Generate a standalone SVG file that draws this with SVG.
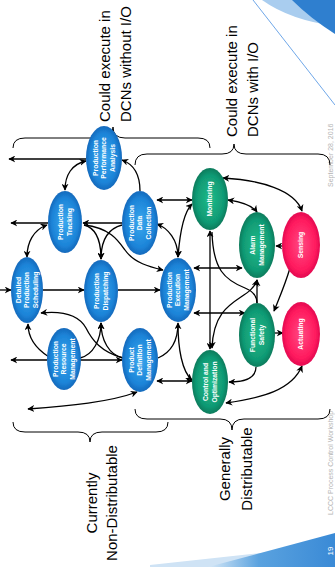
<svg xmlns="http://www.w3.org/2000/svg" width="335" height="567" viewBox="0 0 335 567">
<defs>
<style>
.c{fill:none;stroke:#000;stroke-width:1.3}
.e{marker-end:url(#ah)}
.b{marker-end:url(#ah);marker-start:url(#ah)}
.nt{font-family:"Liberation Sans",Arial,sans-serif;font-weight:bold;font-size:6.8px;fill:#fff;text-anchor:middle}
.big{font-family:"Liberation Sans",Arial,sans-serif;font-size:15px;fill:#000}
.ft{font-family:"Liberation Sans",Arial,sans-serif;font-size:7px;fill:#b4b4b4}
.br{fill:none;stroke:#000;stroke-width:1}
.blue{fill:url(#gb)}
.green{fill:url(#gg)}
.pink{fill:url(#gp)}
</style>
<radialGradient id="gb" cx="50%" cy="50%" r="55%">
<stop offset="0" stop-color="#3aa8ee"/><stop offset="0.7" stop-color="#1c84d8"/><stop offset="1" stop-color="#125eb0"/>
</radialGradient>
<radialGradient id="gg" cx="50%" cy="50%" r="55%">
<stop offset="0" stop-color="#1fbb8a"/><stop offset="0.7" stop-color="#109a74"/><stop offset="1" stop-color="#086e52"/>
</radialGradient>
<radialGradient id="gp" cx="50%" cy="50%" r="55%">
<stop offset="0" stop-color="#ff4a82"/><stop offset="0.7" stop-color="#ff1a5e"/><stop offset="1" stop-color="#d8004a"/>
</radialGradient>
<linearGradient id="bar" x1="0" y1="0" x2="1" y2="0">
<stop offset="0" stop-color="#d6e8f7"/><stop offset="0.4" stop-color="#5aa2df"/><stop offset="1" stop-color="#3a8ad6"/>
</linearGradient>
<filter id="soft" x="-20%" y="-20%" width="140%" height="140%"><feGaussianBlur stdDeviation="0.7"/></filter>
<marker id="ah" viewBox="0 0 10 10" refX="9" refY="5" markerWidth="7" markerHeight="7" markerUnits="userSpaceOnUse" orient="auto-start-reverse">
<path d="M0,0 L10,5 L0,10 L3,5 z" fill="#000"/>
</marker>
</defs>

<g id="decor">
<path d="M262,0 Q290,20 335,26 L335,0 Z" fill="#a9cdef"/>
<path d="M292,0 Q310,18 335,34 L335,0 Z" fill="#2f7fcf"/>
<line x1="253" y1="0" x2="335" y2="105" stroke="#4a90e2" stroke-width="0.8"/>
<path d="M150,567 L150,565 L335,545 L335,567 Z" fill="#cfe3f5"/>
<path d="M208,567 L335,533 L335,567 Z" fill="url(#bar)"/>
<text class="ft" style="fill:#fff;font-size:8px" transform="translate(333,551) rotate(-90)" text-anchor="middle">19</text>
<text class="ft" transform="translate(333,515) rotate(-90)">LCCC Process Control Workshop</text>
<text class="ft" transform="translate(333,187) rotate(-90)">September 28, 2016</text>
</g>

<g id="connectors">
<path class="c e" d="M86,159 L9,159"/>
<path class="c b" d="M86,161 C72,164 65,175 65,190"/>
<path class="c e" d="M140,191 C140,173 133,164 122,160"/>
<path class="c e" d="M48,223 L11,223"/>
<path class="c b" d="M47,225 C33,230 27,243 27,257"/>
<path class="c e" d="M122,223 L83,223"/>
<path class="c e" d="M84,225 C96,228 101,240 101,259"/>
<path class="c e" d="M122,225 C107,229 101,241 101,259"/>
<path class="c e" d="M84,225 C110,228 118,240 125,250 C134,263 150,267 163,270"/>
<path class="c e" d="M0,290 L11,290"/>
<path class="c e" d="M43,290 L84,290"/>
<path class="c e" d="M118,290 L160,290"/>
<path class="c e" d="M47,360 L11,360"/>
<path class="c e" d="M49,357 C38,350 28,340 28,324"/>
<path class="c e" d="M80,358 C93,355 101,340 101,323"/>
<path class="c e" d="M123,358 C109,355 101,340 101,323"/>
<path class="c e" d="M80,360 L122,360"/>
<path class="c e" d="M123,358 C101,352 92,340 86,328 C78,314 60,311 41,313"/>
<path class="c e" d="M158,358 C172,352 178,340 178,323"/>
<path class="c e" d="M178,324 C178,348 182,372 192,380"/>
<path class="c b" d="M157,381 L192,381"/>
<path class="c b" d="M28,409 C70,406 110,402 137,392"/>
<path class="c b" d="M226,403 C262,398 292,390 302,366"/>
<path class="c e" d="M256,367 C256,378 245,382 229,382"/>
<path class="c e" d="M274,333 L283,333"/>
<path class="c b" d="M194,313 L245,313"/>
<path class="c b" d="M194,268 L242,268"/>
<path class="c b" d="M210,231 L210,349"/>
<path class="c b" d="M257,280 C250,302 214,296 212,348"/>
<path class="c" d="M212,232 C213,270 225,280 245,288 C255,292 257,298 257,303"/>
<path class="c e" d="M257,303 L257,280"/>
<path class="c e" d="M283,246 L276,246"/>
<path class="c e" d="M290,268 C285,285 280,296 274,311"/>
<path class="c b" d="M228,200 C242,202 252,205 257,212"/>
<path class="c b" d="M223,178 C260,180 295,190 302,211"/>
<path class="c b" d="M157,200 L192,200"/>
<path class="c b" d="M157,224 C168,228 178,240 178,257"/>
<path class="c b" d="M178,257 C180,230 184,212 192,204"/>
</g>

<g id="braces">
<path class="br" d="M13,148 Q13,138 25,138 L101,138 Q113,138 113,127 Q113,138 125,138 L198,138 Q210,138 210,148"/>
<path class="br" d="M135,165 Q135,154 147,154 L222,154 Q234,154 234,144 Q234,154 246,154 L318,154 Q330,154 330,165"/>
<path class="br" d="M13,422 Q13,432 25,432 L78,432 Q90,432 90,442 Q90,432 102,432 L156,432 Q168,432 168,422"/>
<path class="br" d="M135,409 Q135,419 147,419 L220,419 Q232,419 232,430 Q232,419 244,419 L318,419 Q330,419 330,409"/>
</g>

<g id="labels">
<text class="big" transform="translate(110,122) rotate(-90)"><tspan x="0" y="0">Could execute in</tspan><tspan x="0" y="21">DCNs without I/O</tspan></text>
<text class="big" transform="translate(237,137) rotate(-90)"><tspan x="0" y="0">Could execute in</tspan><tspan x="0" y="21">DCNs with I/O</tspan></text>
<text class="big" text-anchor="middle" transform="translate(97,503) rotate(-90)"><tspan x="0" y="0">Currently</tspan><tspan x="0" y="20">Non-Distributable</tspan></text>
<text class="big" text-anchor="middle" transform="translate(230,469) rotate(-90)"><tspan x="0" y="0">Generally</tspan><tspan x="0" y="22">Distributable</tspan></text>
</g>

<g id="n-ppa"><ellipse class="blue" filter="url(#soft)" cx="104" cy="158" rx="18" ry="32"/>
<text class="nt" transform="translate(104,158) rotate(-90)"><tspan x="0" y="-6.3">Production</tspan><tspan x="0" y="2.4">Performance</tspan><tspan x="0" y="11.1">Analysis</tspan></text></g>
<g id="n-pt"><ellipse class="blue" filter="url(#soft)" cx="65" cy="222" rx="17" ry="31"/>
<text class="nt" transform="translate(65,222) rotate(-90)"><tspan x="0" y="-2">Production</tspan><tspan x="0" y="6.7">Tracking</tspan></text></g>
<g id="n-pdc"><ellipse class="blue" filter="url(#soft)" cx="140" cy="223" rx="18" ry="32"/>
<text class="nt" transform="translate(140,223) rotate(-90)"><tspan x="0" y="-6.3">Production</tspan><tspan x="0" y="2.4">Data</tspan><tspan x="0" y="11.1">Collection</tspan></text></g>
<g id="n-dps"><ellipse class="blue" filter="url(#soft)" cx="27" cy="290" rx="16" ry="33"/>
<text class="nt" transform="translate(27,290) rotate(-90)"><tspan x="0" y="-6.3">Detailed</tspan><tspan x="0" y="2.4">Production</tspan><tspan x="0" y="11.1">Scheduling</tspan></text></g>
<g id="n-pd"><ellipse class="blue" filter="url(#soft)" cx="101" cy="291" rx="17" ry="31"/>
<text class="nt" transform="translate(101,291) rotate(-90)"><tspan x="0" y="-2">Production</tspan><tspan x="0" y="6.7">Dispatching</tspan></text></g>
<g id="n-pem"><ellipse class="blue" filter="url(#soft)" cx="178" cy="290" rx="18" ry="32"/>
<text class="nt" transform="translate(178,290) rotate(-90)"><tspan x="0" y="-6.3">Production</tspan><tspan x="0" y="2.4">Execution</tspan><tspan x="0" y="11.1">Management</tspan></text></g>
<g id="n-prm"><ellipse class="blue" filter="url(#soft)" cx="64" cy="359" rx="17" ry="31"/>
<text class="nt" transform="translate(64,359) rotate(-90)"><tspan x="0" y="-6.3">Production</tspan><tspan x="0" y="2.4">Resource</tspan><tspan x="0" y="11.1">Management</tspan></text></g>
<g id="n-pdm"><ellipse class="blue" filter="url(#soft)" cx="140" cy="360" rx="18" ry="32"/>
<text class="nt" transform="translate(140,360) rotate(-90)"><tspan x="0" y="-6.3">Product</tspan><tspan x="0" y="2.4">Definition</tspan><tspan x="0" y="11.1">Management</tspan></text></g>
<g id="n-mon"><ellipse class="green" filter="url(#soft)" cx="210" cy="199" rx="18" ry="31"/>
<text class="nt" transform="translate(210,199) rotate(-90)"><tspan x="0" y="2.4">Monitoring</tspan></text></g>
<g id="n-am"><ellipse class="green" filter="url(#soft)" cx="257" cy="245" rx="18" ry="33"/>
<text class="nt" transform="translate(257,245) rotate(-90)"><tspan x="0" y="-2">Alarm</tspan><tspan x="0" y="6.7">Management</tspan></text></g>
<g id="n-sen"><ellipse class="pink" filter="url(#soft)" cx="301" cy="245" rx="19" ry="33"/>
<text class="nt" transform="translate(301,245) rotate(-90)"><tspan x="0" y="2.4">Sensing</tspan></text></g>
<g id="n-fs"><ellipse class="green" filter="url(#soft)" cx="257" cy="335" rx="18" ry="32"/>
<text class="nt" transform="translate(257,335) rotate(-90)"><tspan x="0" y="-2">Functional</tspan><tspan x="0" y="6.7">Safety</tspan></text></g>
<g id="n-act"><ellipse class="pink" filter="url(#soft)" cx="301" cy="334" rx="19" ry="32"/>
<text class="nt" transform="translate(301,334) rotate(-90)"><tspan x="0" y="2.4">Actuating</tspan></text></g>
<g id="n-co"><ellipse class="green" filter="url(#soft)" cx="210" cy="382" rx="18" ry="32"/>
<text class="nt" transform="translate(210,382) rotate(-90)"><tspan x="0" y="-2">Control and</tspan><tspan x="0" y="6.7">Optimization</tspan></text></g>
</svg>
